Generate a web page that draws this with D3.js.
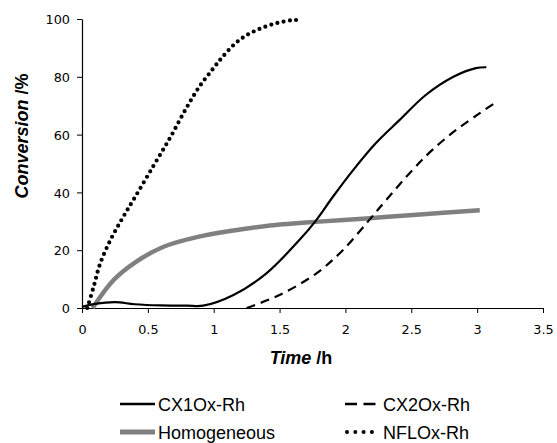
<!DOCTYPE html>
<html>
<head>
<meta charset="utf-8">
<script src="https://cdn.jsdelivr.net/npm/d3@7"></script>
<style>
  body { margin: 0; background: #fff; }
  svg { font-family: "Liberation Sans", Arial, sans-serif; }
</style>
</head>
<body>
<svg id="chart" width="557" height="443"></svg>
<script>
// values
const cx1Time = [0, 0.1, 0.25, 0.4, 0.6, 0.8, 0.92, 1.15, 1.4, 1.65, 1.77, 1.905, 2.06, 2.23, 2.41, 2.61, 2.82, 2.99, 3.07],
  cx1Conv = [0.4, 1.4, 2, 1.3, 0.9, 0.8, 0.8, 4.5, 12, 23.5, 29.9, 38.5, 47.8, 57, 65, 73.7, 80, 83, 83.3];

const cx2Time = [1.25, 1.5, 1.78, 1.98, 2.18, 2.31, 2.51, 2.66, 2.84, 3.02, 3.13],
  cx2Conv = [0, 4.5, 12, 20, 30.4, 37.4, 47.8, 54.7, 61.6, 67.4, 70.8];

const homTime = [0.08, 0.24, 0.41, 0.62, 0.88, 1.15, 1.4, 1.77, 2.16, 2.54, 3.02],
  homConv = [0, 9.7, 16, 21.2, 24.6, 26.8, 28.4, 29.8, 31, 32.3, 33.8];

const nflTime = [0.04, 0.09, 0.135, 0.21, 0.30, 0.39, 0.54, 0.67, 0.79, 0.89, 0.99, 1.06, 1.16, 1.25, 1.36, 1.48, 1.6, 1.67],
  nflConv = [0, 7.6, 15, 23, 30.5, 37.4, 49, 59, 69, 76.5, 82.5, 86.5, 91.4, 94.4, 96.8, 98.6, 99.6, 99.6];

const xTicks = [0, 0.5, 1, 1.5, 2, 2.5, 3, 3.5],
  yTicks = [0, 20, 40, 60, 80, 100];

const seriesNames = ["CX1Ox-Rh", "CX2Ox-Rh", "Homogeneous", "NFLOx-Rh"];

const zip = (a, b) => a.map((t, i) => [t, b[i]]);

const svg = d3.select("#chart");

const x = d3.scaleLinear().domain([0, 3.5]).range([82, 543]),
  y = d3.scaleLinear().domain([0, 100]).range([308, 19]);

const styles = {
  "CX1Ox-Rh": { stroke: "#000", width: 2.2, dash: null, cap: "butt" },
  "CX2Ox-Rh": { stroke: "#000", width: 2.2, dash: "9,6", cap: "butt" },
  "Homogeneous": { stroke: "#808080", width: 4.5, dash: null, cap: "butt" },
  "NFLOx-Rh": { stroke: "#000", width: 4.2, dash: "0,6.3", cap: "round" }
};

const series = [
  { name: "Homogeneous", pts: zip(homTime, homConv) },
  { name: "CX1Ox-Rh", pts: zip(cx1Time, cx1Conv) },
  { name: "CX2Ox-Rh", pts: zip(cx2Time, cx2Conv) },
  { name: "NFLOx-Rh", pts: zip(nflTime, nflConv) }
];

const line = d3.line()
  .x(d => x(d[0]))
  .y(d => y(d[1]))
  .curve(d3.curveCatmullRom.alpha(0.5));

// axes
const xAxis = svg.append("g")
  .attr("transform", `translate(0,${y(0)})`)
  .call(d3.axisBottom(x).tickValues(xTicks).tickSize(5).tickSizeOuter(0).tickFormat(d3.format("")));

const yAxis = svg.append("g")
  .attr("transform", `translate(${x(0)},0)`)
  .call(d3.axisLeft(y).tickValues(yTicks).tickSize(5).tickSizeOuter(0));

[xAxis, yAxis].forEach(a => {
  a.select(".domain").attr("stroke", "#000").attr("stroke-width", 1.2);
  a.selectAll(".tick line").attr("stroke", "#000");
  a.selectAll("text")
    .attr("fill", "#000")
    .style("font-family", "DejaVu Sans, sans-serif")
    .style("font-size", "12.8px");
});
xAxis.selectAll("text").attr("y", 16.5).attr("dy", "0.71em");
yAxis.selectAll("text").attr("x", -12).attr("dy", "0.36em");

// curves
svg.append("g")
  .selectAll("path")
  .data(series)
  .enter()
  .append("path")
  .attr("d", d => line(d.pts))
  .attr("fill", "none")
  .attr("stroke", d => styles[d.name].stroke)
  .attr("stroke-width", d => styles[d.name].width)
  .attr("stroke-dasharray", d => styles[d.name].dash)
  .attr("stroke-linecap", d => styles[d.name].cap);

// axis titles
const yTitle = svg.append("text")
  .attr("transform", "translate(28,136) rotate(-90)")
  .attr("text-anchor", "middle")
  .attr("font-size", 18)
  .attr("font-weight", "bold");
yTitle.append("tspan").attr("font-style", "italic").text("Conversion");
yTitle.append("tspan").text(" /%");

const xTitle = svg.append("text")
  .attr("x", 301)
  .attr("y", 364)
  .attr("text-anchor", "middle")
  .attr("font-size", 18)
  .attr("font-weight", "bold");
xTitle.append("tspan").attr("font-style", "italic").text("Time");
xTitle.append("tspan").text(" /h");

// legend
const legendPos = {
  "CX1Ox-Rh": [120, 404],
  "CX2Ox-Rh": [345, 404],
  "Homogeneous": [120, 432],
  "NFLOx-Rh": [345, 432]
};

const legend = svg.append("g")
  .selectAll("g")
  .data(seriesNames)
  .enter()
  .append("g")
  .attr("transform", d => `translate(${legendPos[d][0]},${legendPos[d][1]})`);

legend.append("line")
  .attr("x1", d => d === "NFLOx-Rh" ? 2 : 0)
  .attr("x2", d => d === "NFLOx-Rh" ? 30 : 35)
  .attr("stroke", d => styles[d].stroke)
  .attr("stroke-width", d => d === "Homogeneous" ? 5 : d === "NFLOx-Rh" ? 4 : 2.4)
  .attr("stroke-dasharray", d => d === "CX2Ox-Rh" ? "12,6.5" : d === "NFLOx-Rh" ? "0,8.3" : null)
  .attr("stroke-linecap", d => d === "NFLOx-Rh" ? "round" : "butt");

legend.append("text")
  .attr("x", 38)
  .attr("y", 6.5)
  .attr("font-size", 18)
  .attr("fill", "#000")
  .text(d => d);
</script>
</body>
</html>
